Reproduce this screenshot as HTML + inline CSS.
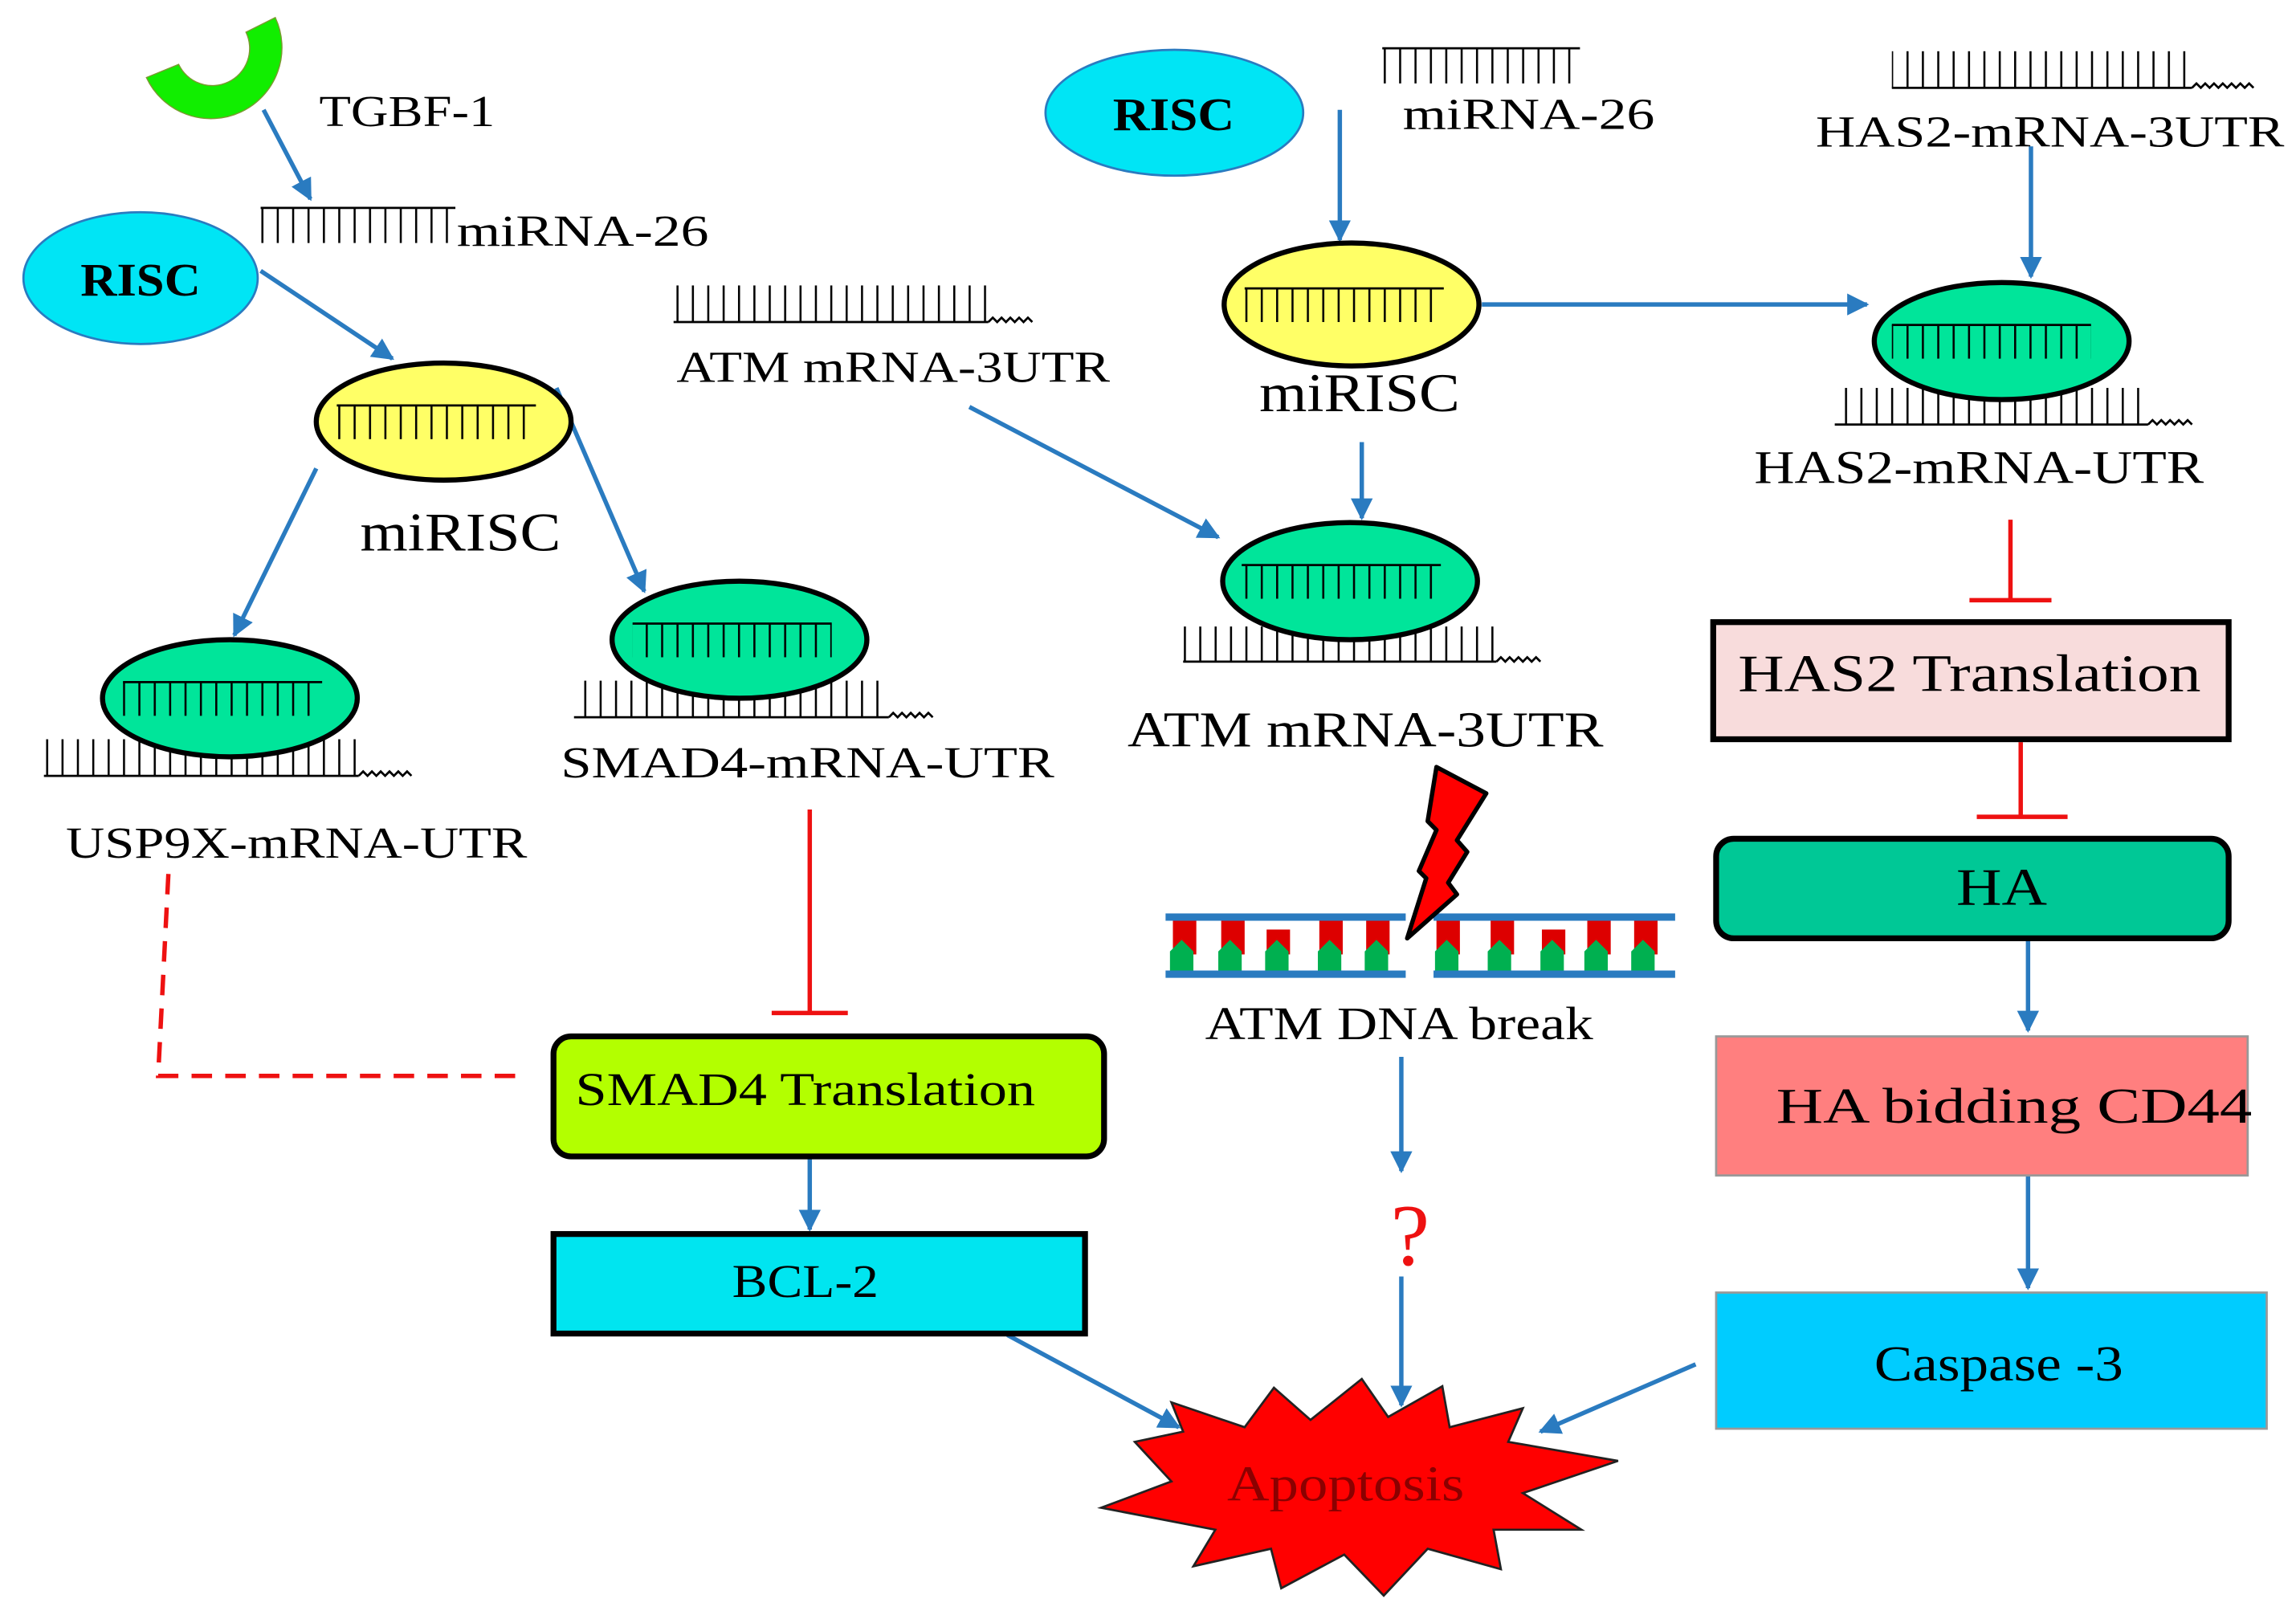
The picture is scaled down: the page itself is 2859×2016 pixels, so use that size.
<!DOCTYPE html>
<html><head><meta charset="utf-8"><style>
html,body{margin:0;padding:0;background:#fff;}
svg{display:block;}
text{font-family:"Liberation Serif",serif;fill:#000;}
</style></head><body>
<svg width="2859" height="2016" viewBox="0 0 1568 1106" preserveAspectRatio="none" xmlns="http://www.w3.org/2000/svg">
<defs>
<pattern id="tk" patternUnits="userSpaceOnUse" width="10.5" height="200" x="0" y="0"><rect x="0" y="0" width="1.4" height="200" fill="#000"/></pattern>
<marker id="ar" viewBox="0 0 10 10" refX="9" refY="5" markerWidth="5" markerHeight="5" orient="auto-start-reverse" markerUnits="strokeWidth"><path d="M0,0 L10,5 L0,10 z" fill="#2a7bc0"/></marker>
</defs>
<g stroke="#2a7bc0" stroke-width="3" fill="none" marker-end="url(#ar)">
<line x1="180" y1="75" x2="212" y2="136"/>
<line x1="178" y1="185" x2="268" y2="245"/>
<line x1="216" y1="320" x2="160" y2="434"/>
<line x1="380" y1="265" x2="440" y2="404"/>
<line x1="662" y1="278" x2="832" y2="367"/>
<line x1="553" y1="790" x2="553" y2="840"/>
<line x1="688" y1="912" x2="805" y2="975"/>
<line x1="915" y1="75" x2="915" y2="164"/>
<line x1="1012" y1="208" x2="1275" y2="208"/>
<line x1="1387" y1="100" x2="1387" y2="189"/>
<line x1="930" y1="302" x2="930" y2="354"/>
<line x1="1385" y1="641" x2="1385" y2="704"/>
<line x1="1385" y1="803" x2="1385" y2="880"/>
<line x1="1158" y1="932" x2="1052" y2="978"/>
<line x1="957" y1="722" x2="957" y2="800"/>
<line x1="957" y1="872" x2="957" y2="960"/>
</g>
<!-- crescent -->
<path d="M100,53 A46,46 0 1 0 188,12 L168,22 A25,25 0 1 1 122,44 Z" fill="#11ee00" stroke="#7a9a30" stroke-width="0.8"/>
<text x="218" y="86" font-size="30" textLength="120" lengthAdjust="spacingAndGlyphs">TGBF-1</text>
<!-- top combs (line on top) -->
<rect x="178" y="142" width="133" height="24" fill="url(#tk)"/><line x1="178" y1="142" x2="311" y2="142" stroke="#000" stroke-width="1.5"/>
<text x="312" y="168" font-size="30" textLength="172" lengthAdjust="spacingAndGlyphs">miRNA-26</text>
<rect x="944" y="33" width="135" height="24" fill="url(#tk)"/><line x1="944" y1="33" x2="1079" y2="33" stroke="#000" stroke-width="1.5"/>
<text x="958" y="88" font-size="30" textLength="172" lengthAdjust="spacingAndGlyphs">miRNA-26</text>
<!-- combs with bottom line -->
<g stroke="#000" stroke-width="1.5" fill="none">
<line x1="460" y1="220" x2="675" y2="220"/><path d="M675,220 l3,-3 3,3 3,-3 3,3 3,-3 3,3 3,-3 3,3 3,-3 3,3"/>
<line x1="1292" y1="60" x2="1497" y2="60"/><path d="M1497,60 l3,-3 3,3 3,-3 3,3 3,-3 3,3 3,-3 3,3 3,-3 3,3 3,-3 3,3 3,-3 3,3"/>
<line x1="30" y1="530" x2="245" y2="530"/><path d="M245,530 l3,-3 3,3 3,-3 3,3 3,-3 3,3 3,-3 3,3 3,-3 3,3 3,-3 3,3"/>
<line x1="392" y1="490" x2="607" y2="490"/><path d="M607,490 l3,-3 3,3 3,-3 3,3 3,-3 3,3 3,-3 3,3 3,-3 3,3"/>
<line x1="808" y1="452" x2="1022" y2="452"/><path d="M1022,452 l3,-3 3,3 3,-3 3,3 3,-3 3,3 3,-3 3,3 3,-3 3,3"/>
<line x1="1253" y1="290" x2="1467" y2="290"/><path d="M1467,290 l3,-3 3,3 3,-3 3,3 3,-3 3,3 3,-3 3,3 3,-3 3,3"/>
</g>
<rect x="460" y="195" width="216" height="25" fill="url(#tk)"/>
<rect x="1292" y="35" width="206" height="25" fill="url(#tk)"/>
<rect x="30" y="505" width="216" height="25" fill="url(#tk)"/>
<rect x="392" y="465" width="216" height="25" fill="url(#tk)"/>
<rect x="808" y="428" width="215" height="24" fill="url(#tk)"/>
<rect x="1253" y="265" width="215" height="25" fill="url(#tk)"/>
<text x="462" y="261" font-size="30" textLength="296" lengthAdjust="spacingAndGlyphs">ATM mRNA-3UTR</text>
<text x="1240" y="100" font-size="30" textLength="320" lengthAdjust="spacingAndGlyphs">HAS2-mRNA-3UTR</text>
<text x="45" y="586" font-size="30" textLength="315" lengthAdjust="spacingAndGlyphs">USP9X-mRNA-UTR</text>
<text x="383" y="531" font-size="30" textLength="337" lengthAdjust="spacingAndGlyphs">SMAD4-mRNA-UTR</text>
<text x="770" y="510" font-size="34" textLength="325" lengthAdjust="spacingAndGlyphs">ATM mRNA-3UTR</text>
<text x="1198" y="330" font-size="32" textLength="307" lengthAdjust="spacingAndGlyphs">HAS2-mRNA-UTR</text>
<!-- RISC -->
<ellipse cx="96" cy="190" rx="80" ry="45" fill="#00e5f5" stroke="#2a7bc0" stroke-width="1.5"/>
<text x="55" y="202" font-size="32" font-weight="bold" textLength="82" lengthAdjust="spacingAndGlyphs">RISC</text>
<ellipse cx="802" cy="77" rx="88" ry="43" fill="#00e5f5" stroke="#2a7bc0" stroke-width="1.5"/>
<text x="760" y="89" font-size="32" font-weight="bold" textLength="83" lengthAdjust="spacingAndGlyphs">RISC</text>
<!-- ellipses -->
<g stroke="#000" stroke-width="3.5">
<ellipse cx="303" cy="288" rx="87" ry="40" fill="#ffff66"/>
<ellipse cx="923" cy="208" rx="87" ry="42" fill="#ffff66"/>
<ellipse cx="157" cy="477" rx="87" ry="40" fill="#00e59a"/>
<ellipse cx="505" cy="437" rx="87" ry="40" fill="#00e59a"/>
<ellipse cx="922" cy="397" rx="87" ry="40" fill="#00e59a"/>
<ellipse cx="1367" cy="233" rx="87" ry="40" fill="#00e59a"/>
</g>
<!-- inner combs -->
<g>
<rect x="230" y="277" width="136" height="23" fill="url(#tk)"/><line x1="230" y1="277" x2="366" y2="277" stroke="#000" stroke-width="1.5"/>
<rect x="850" y="197" width="136" height="23" fill="url(#tk)"/><line x1="850" y1="197" x2="986" y2="197" stroke="#000" stroke-width="1.5"/>
<rect x="84" y="466" width="136" height="23" fill="url(#tk)"/><line x1="84" y1="466" x2="220" y2="466" stroke="#000" stroke-width="1.5"/>
<rect x="432" y="426" width="136" height="23" fill="url(#tk)"/><line x1="432" y1="426" x2="568" y2="426" stroke="#000" stroke-width="1.5"/>
<rect x="848" y="386" width="136" height="23" fill="url(#tk)"/><line x1="848" y1="386" x2="984" y2="386" stroke="#000" stroke-width="1.5"/>
<rect x="1292" y="222" width="136" height="23" fill="url(#tk)"/><line x1="1292" y1="222" x2="1428" y2="222" stroke="#000" stroke-width="1.5"/>
</g>
<text x="246" y="376" font-size="37" textLength="137" lengthAdjust="spacingAndGlyphs">miRISC</text>
<text x="860" y="281" font-size="37" textLength="137" lengthAdjust="spacingAndGlyphs">miRISC</text>
<!-- red inhibitors -->
<g stroke="#ee1111" stroke-width="3" fill="none">
<line x1="553" y1="553" x2="553" y2="692"/><line x1="527" y1="692" x2="579" y2="692"/>
<line x1="1373" y1="355" x2="1373" y2="410"/><line x1="1345" y1="410" x2="1401" y2="410"/>
<line x1="1380" y1="507" x2="1380" y2="558"/><line x1="1350" y1="558" x2="1412" y2="558"/>
<path d="M115,597 L108,735 L355,735" stroke-dasharray="14,9"/>
</g>
<!-- boxes -->
<rect x="378" y="708" width="376" height="82" rx="12" fill="#b3ff00" stroke="#000" stroke-width="4"/>
<text x="393" y="755" font-size="32" textLength="314" lengthAdjust="spacingAndGlyphs">SMAD4 Translation</text>
<rect x="378" y="843" width="363" height="68" fill="#00e5f0" stroke="#000" stroke-width="4"/>
<text x="500" y="886" font-size="32" textLength="100" lengthAdjust="spacingAndGlyphs">BCL-2</text>
<rect x="1170" y="425" width="352" height="80" fill="#f8dcdc" stroke="#000" stroke-width="4"/>
<text x="1187" y="472" font-size="36" textLength="316" lengthAdjust="spacingAndGlyphs">HAS2 Translation</text>
<rect x="1172" y="573" width="350" height="68" rx="12" fill="#00c896" stroke="#000" stroke-width="4"/>
<text x="1336" y="618" font-size="36" textLength="62" lengthAdjust="spacingAndGlyphs">HA</text>
<rect x="1172" y="708" width="363" height="95" fill="#ff7f7f" stroke="#999" stroke-width="1.5"/>
<text x="1213" y="767" font-size="34" textLength="325" lengthAdjust="spacingAndGlyphs">HA bidding CD44</text>
<rect x="1172" y="883" width="376" height="93" fill="#00ccff" stroke="#999" stroke-width="1.5"/>
<text x="1280" y="943" font-size="34" textLength="170" lengthAdjust="spacingAndGlyphs">Caspase -3</text>
<!-- DNA -->
<g>
<g fill="#dd0000">
<rect x="801" y="628" width="16" height="24"/><rect x="834" y="628" width="16" height="24"/><rect x="865" y="635" width="16" height="17"/><rect x="901" y="628" width="16" height="24"/><rect x="933" y="628" width="16" height="24"/>
<rect x="981" y="628" width="16" height="24"/><rect x="1018" y="628" width="16" height="24"/><rect x="1053" y="635" width="16" height="17"/><rect x="1084" y="628" width="16" height="24"/><rect x="1116" y="628" width="16" height="24"/>
</g>
<g fill="#00b050">
<path d="M799,665 V650 l8,-8 8,8 V665z"/><path d="M832,665 V650 l8,-8 8,8 V665z"/><path d="M864,665 V650 l8,-8 8,8 V665z"/><path d="M900,665 V650 l8,-8 8,8 V665z"/><path d="M932,665 V650 l8,-8 8,8 V665z"/>
<path d="M980,665 V650 l8,-8 8,8 V665z"/><path d="M1016,665 V650 l8,-8 8,8 V665z"/><path d="M1052,665 V650 l8,-8 8,8 V665z"/><path d="M1082,665 V650 l8,-8 8,8 V665z"/><path d="M1114,665 V650 l8,-8 8,8 V665z"/>
</g>
<g fill="#2a7bc0">
<rect x="796" y="624" width="164" height="5"/><rect x="796" y="663" width="164" height="5"/>
<rect x="979" y="624" width="165" height="5"/><rect x="979" y="663" width="165" height="5"/>
</g>
</g>
<path d="M981,524 L1015,542 L995,574 L1002,582 L989,603 L995,611 L961,641 L974,600 L969,595 L981,567 L975,561 Z" fill="#ff0000" stroke="#000" stroke-width="3" stroke-linejoin="round"/>
<text x="823" y="710" font-size="32" textLength="265" lengthAdjust="spacingAndGlyphs">ATM DNA break</text>
<text x="963" y="864" font-size="60" text-anchor="middle" style="fill:#ee1111">?</text>
<!-- Apoptosis -->
<path d="M775,985 L808,978 L800,958 L850,975 L870,948 L895,970 L930,942 L948,968 L985,947 L990,975 L1040,962 L1030,985 L1105,998 L1040,1020 L1080,1045 L1020,1045 L1025,1072 L975,1058 L945,1090 L918,1062 L875,1085 L868,1058 L815,1070 L830,1045 L752,1030 L800,1012 Z" fill="#ff0000" stroke="#222" stroke-width="1.5"/>
<text x="838" y="1025" font-size="34" textLength="162" lengthAdjust="spacingAndGlyphs" style="fill:#8b0000">Apoptosis</text>
</svg>
</body></html>
